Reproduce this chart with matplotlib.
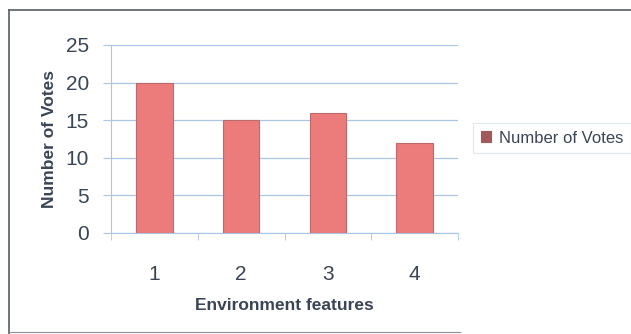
import matplotlib.pyplot as plt
from matplotlib.lines import Line2D

features = ["1", "2", "3", "4"]
votes = [20, 15, 16, 12]
series_name = "Number of Votes"

plt.rcParams["font.family"] = ["Liberation Sans", "DejaVu Sans"]
text_col = "#3a4555"
grid_col = "#a9c6e6"

fig = plt.figure(figsize=(6.31, 3.34), dpi=100)
ax = fig.add_axes([111 / 631, 1 - 233 / 334, (458 - 111) / 631, (233 - 45) / 334])

x = range(len(features))
ax.bar(x, votes, width=0.42, color="#ec7b7b", edgecolor="#bf6a6a", linewidth=0.8,
       label=series_name, zorder=3)

ax.set_xlim(-0.5, len(features) - 0.5)
ax.set_ylim(0, 25)
ax.set_yticks(range(0, 26, 5))
ax.set_xticks(list(x))
ax.set_xticklabels(features)
ax.set_xticks([i + 0.5 for i in range(-1, len(features))], minor=True)
ax.tick_params(axis="x", which="major", length=0, pad=23, labelsize=15, labelcolor=text_col)
ax.tick_params(axis="x", which="minor", length=5, color=grid_col, direction="out")
ax.tick_params(axis="y", length=6, color=grid_col, labelsize=15, labelcolor=text_col, pad=10)
ax.grid(axis="y", color=grid_col, linewidth=0.9, zorder=0)

for side in ["top", "right"]:
    ax.spines[side].set_visible(False)
for side in ["left", "bottom"]:
    ax.spines[side].set_color(grid_col)

ax.set_ylabel(series_name, fontsize=12.5, fontweight="bold", color=text_col, labelpad=6)
ax.set_xlabel("Environment features", fontsize=12.5, fontweight="bold", color=text_col, labelpad=10)

leg = ax.legend(loc="upper left", bbox_to_anchor=(473 / 631, 1 - 123 / 334),
                bbox_transform=fig.transFigure, frameon=True, fancybox=False,
                fontsize=12, handlelength=0.6, handleheight=0.6, handletextpad=0.5,
                borderpad=0.45, borderaxespad=0)
leg.get_frame().set_edgecolor("#d6e2ef")
leg.get_frame().set_linewidth(0.8)
for t in leg.get_texts():
    t.set_color(text_col)
leg.legend_handles[0].set_color("#a05a5a")

# outer frame
fig.add_artist(Line2D([9 / 631, 9 / 631], [1 - 10 / 334, 0],
                      transform=fig.transFigure, color="#555d66", linewidth=1.2))
fig.add_artist(Line2D([9 / 631, 1.0], [1 - 10 / 334, 1 - 10 / 334],
                      transform=fig.transFigure, color="#555d66", linewidth=1.2))
fig.add_artist(Line2D([9 / 631, 460 / 631], [1 - 332 / 334, 1 - 332 / 334],
                      transform=fig.transFigure, color="#8a9098", linewidth=0.8))

fig.savefig("out.png", dpi=100)
